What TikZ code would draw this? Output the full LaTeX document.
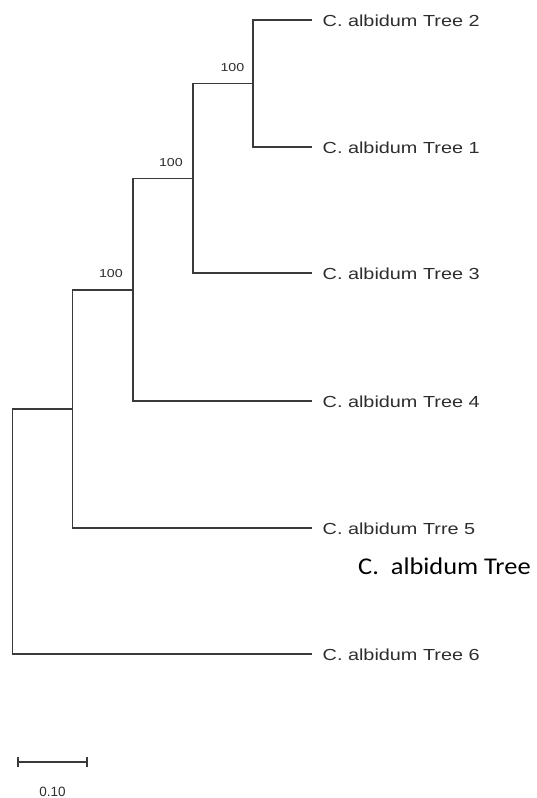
\documentclass[tikz,border=0pt]{standalone}
\usepackage{graphicx}
\usepackage{fontspec}
\setmainfont{Liberation Sans}
\newfontfamily\calib{Carlito}
\definecolor{treeline}{RGB}{58,58,58}
\definecolor{treetext}{RGB}{45,45,45}
\tikzset{
  branch/.style={draw=treeline, line width=1.3pt},
  leaflabel/.style={anchor=base west, inner sep=0pt, text=treetext,
    font=\fontsize{16}{16}\selectfont},
  bootlabel/.style={anchor=base east, inner sep=0pt, text=treetext,
    font=\fontsize{11.5}{11.5}\selectfont},
  bigtext/.style={anchor=base west, inner sep=0pt, text=black,
    font=\calib\fontsize{24}{24}\selectfont},
  scalelabel/.style={anchor=base, inner sep=0pt, text=treetext,
    font=\fontsize{13.5}{13.5}\selectfont}
}
\newcommand{\hstretch}[1]{\scalebox{1.24}[1]{#1}}
\begin{document}
\begin{tikzpicture}[x=1pt, y=-1pt]
\useasboundingbox (0,0) rectangle (536,798);
% internal nodes
\coordinate (A) at (253,83.5);
\coordinate (B) at (193,178.5);
\coordinate (C) at (133,290);
\coordinate (D) at (72.5,409);
\coordinate (R) at (12.5,531.5);
% leaf tips
\coordinate (t2) at (312,20);
\coordinate (t1) at (312,147);
\coordinate (t3) at (312,273);
\coordinate (t4) at (312,401);
\coordinate (t5) at (312,528);
\coordinate (t6) at (312,654);
% branches
\draw[branch] (A) |- (t2);
\draw[branch] (A) |- (t1);
\draw[branch] (B) |- (A);
\draw[branch] (B) |- (t3);
\draw[branch] (C) |- (B);
\draw[branch] (C) |- (t4);
\draw[branch] (D) |- (C);
\draw[branch] (D) |- (t5);
\draw[branch] (R) |- (D);
\draw[branch] (R) |- (t6);
% leaf labels
\node[leaflabel] (l2) at ([xshift=10.5pt,yshift=-6.5pt]t2) {\hstretch{C. albidum Tree 2}};
\node[leaflabel] (l1) at ([xshift=10.5pt,yshift=-6.5pt]t1) {\hstretch{C. albidum Tree 1}};
\node[leaflabel] (l3) at ([xshift=10.5pt,yshift=-6.5pt]t3) {\hstretch{C. albidum Tree 3}};
\node[leaflabel] (l4) at ([xshift=10.5pt,yshift=-6.5pt]t4) {\hstretch{C. albidum Tree 4}};
\node[leaflabel] (l5) at ([xshift=10.5pt,yshift=-6.5pt]t5) {\hstretch{C. albidum Trre 5}};
\node[leaflabel] (l6) at ([xshift=10.5pt,yshift=-6.5pt]t6) {\hstretch{C. albidum Tree 6}};
% bootstrap values
\node[bootlabel] (bA) at ([xshift=-8.5pt,yshift=12pt]A) {\hstretch{100}};
\node[bootlabel] (bB) at ([xshift=-10pt,yshift=12pt]B) {\hstretch{100}};
\node[bootlabel] (bC) at ([xshift=-10pt,yshift=12.5pt]C) {\hstretch{100}};
% extra text
\node[bigtext] (extra) at (358,574.5) {\scalebox{1.1}[1]{C.~~albidum Tree}};
% scale bar
\coordinate (s1) at (18,762);
\coordinate (s2) at (87,762);
\draw[branch, line width=1.2pt] (s1) -- (s2);
\draw[branch, line width=1.2pt] ([yshift=5pt]s1) -- ([yshift=-5pt]s1);
\draw[branch, line width=1.2pt] ([yshift=5pt]s2) -- ([yshift=-5pt]s2);
\node[scalelabel] (sl) at (52.5,796.5) {0.10};
\end{tikzpicture}
\end{document}
